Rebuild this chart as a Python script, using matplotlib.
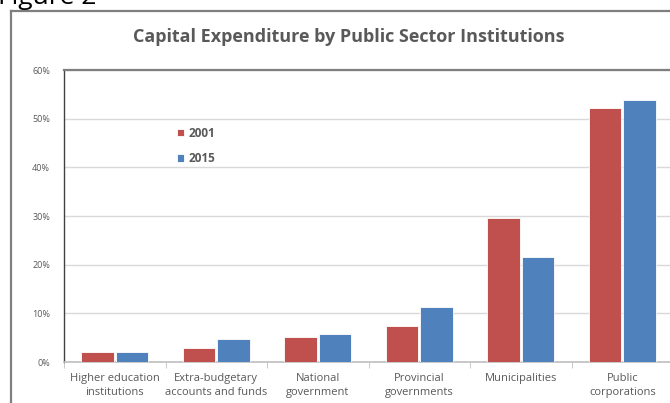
import numpy as np
import matplotlib.pyplot as plt
from matplotlib.lines import Line2D
from matplotlib.ticker import FuncFormatter

# Share of public sector capital expenditure (%)
categories = ["Higher education\ninstitutions", "Extra-budgetary\naccounts and funds",
              "National\ngovernment", "Provincial\ngovernments", "Municipalities",
              "Public\ncorporations"]
share_2001 = [2.0, 2.9, 5.1, 7.4, 29.6, 52.2]
share_2015 = [2.0, 4.7, 5.8, 11.3, 21.6, 53.8]
series_labels = ["2001", "2015"]

plt.rcParams['font.family'] = ['Open Sans', 'DejaVu Sans']

red = '#C0504D'
blue = '#4F81BD'
text_gray = '#595959'

W, H = 670, 403
fig = plt.figure(figsize=(W / 100, H / 100), dpi=100)

# frame around the chart (partially cut off on right and bottom)
fig.add_artist(Line2D([11 / W, 11 / W], [0, 1 - 11 / H], color='#7f7f7f', lw=1.6,
                      transform=fig.transFigure))
fig.add_artist(Line2D([11 / W, 1], [1 - 11 / H, 1 - 11 / H], color='#7f7f7f', lw=1.6,
                      transform=fig.transFigure))

fig.text(-2 / W, 1 - 4 / H, "Figure 2", fontsize=19, color='black', ha='left', va='baseline')
fig.text(349 / W, 1 - 37 / H, "Capital Expenditure by Public Sector Institutions",
         fontsize=13, fontweight='bold', color=text_gray, ha='center', va='center')

ax = fig.add_axes([64 / W, 1 - 362 / H, (673 - 64) / W, (362 - 70) / H])

x = np.arange(len(categories))
bw = 0.32
ax.bar(x - bw / 2 - 0.01, share_2001, bw, color=red, edgecolor='white', linewidth=0.6,
       label=series_labels[0], zorder=3)
ax.bar(x + bw / 2 + 0.01, share_2015, bw, color=blue, edgecolor='white', linewidth=0.6,
       label=series_labels[1], zorder=3)

ax.set_xlim(-0.5, len(categories) - 0.5)
ax.set_ylim(0, 60)
ax.set_yticks(np.arange(0, 61, 10))
ax.yaxis.set_major_formatter(FuncFormatter(lambda v, p: f"{int(v)}%"))
ax.grid(axis='y', color='#d9d9d9', linewidth=1, zorder=0)

ax.set_xticks(x)
ax.set_xticklabels(categories, fontsize=8, color=text_gray, linespacing=1.35)
ax.set_xticks(np.arange(-0.5, len(categories), 1), minor=True)
ax.tick_params(axis='x', which='major', length=0, pad=8)
ax.tick_params(axis='x', which='minor', length=4, color='#bfbfbf')
ax.tick_params(axis='y', length=0, labelsize=6.5, labelcolor=text_gray, pad=10)

ax.spines['left'].set_color('#404040')
ax.spines['left'].set_linewidth(1.0)
ax.spines['top'].set_color('#7f7f7f')
ax.spines['top'].set_linewidth(1.6)
ax.spines['bottom'].set_color('#bfbfbf')
ax.spines['bottom'].set_linewidth(1.2)
ax.spines['right'].set_visible(False)

leg = ax.legend(loc='upper left', bbox_to_anchor=(0.168, 0.842), frameon=False,
                handlelength=0.6, handleheight=0.6, handletextpad=0.4,
                labelspacing=1.05, prop={'size': 8.5, 'weight': 'bold'})
for t in leg.get_texts():
    t.set_color(text_gray)

fig.savefig("out.png", dpi=100)
